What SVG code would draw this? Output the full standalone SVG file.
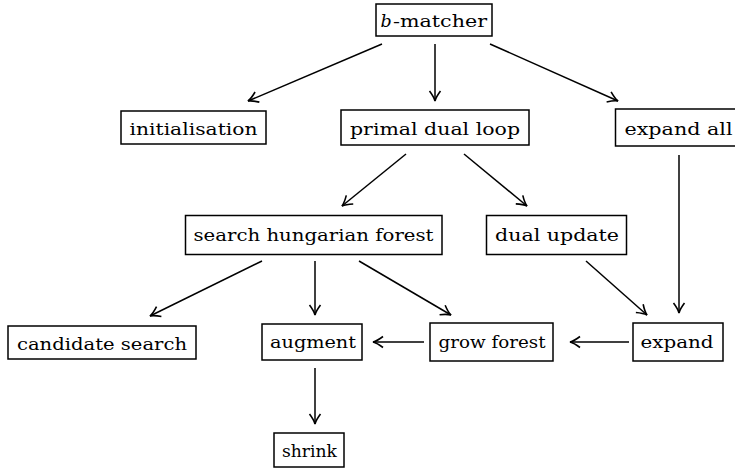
<svg xmlns="http://www.w3.org/2000/svg" width="735" height="470" viewBox="0 0 735 470">
<style>
.n rect{fill:#fff;stroke:#000;stroke-width:1.5}
.n text{font-family:"DejaVu Serif",serif;font-size:17.5px;text-anchor:middle;fill:#000}
#edges line{stroke:#000;stroke-width:1.5;marker-end:url(#ah)}
</style>
<defs>
<marker id="ah" viewBox="-11 -7 13 14" refX="0" refY="0" markerWidth="13" markerHeight="14" markerUnits="userSpaceOnUse" orient="auto">
<path d="M-10,-5.5 Q-4,-1 0,0 Q-4,1 -10,5.5" fill="none" stroke="#000" stroke-width="1.6"/>
</marker>
</defs>
<g id="n-bmatcher" class="n"><rect x="376" y="4" width="116" height="32"/><text x="386" y="27" font-style="italic">b</text><text x="440" y="27" textLength="94" lengthAdjust="spacingAndGlyphs">-matcher</text></g>
<g id="n-init" class="n"><rect x="121" y="111" width="145" height="33"/><text x="193.5" y="135" textLength="128" lengthAdjust="spacingAndGlyphs">initialisation</text></g>
<g id="n-primal" class="n"><rect x="341" y="110" width="188" height="35"/><text x="435" y="135" textLength="170" lengthAdjust="spacingAndGlyphs">primal dual loop</text></g>
<g id="n-expandall" class="n"><rect x="615.5" y="109" width="128" height="37"/><text x="678.5" y="135" textLength="108" lengthAdjust="spacingAndGlyphs">expand all</text></g>
<g id="n-search" class="n"><rect x="185.5" y="215.5" width="256.5" height="39"/><text x="313.5" y="241" textLength="240" lengthAdjust="spacingAndGlyphs">search hungarian forest</text></g>
<g id="n-dual" class="n"><rect x="486.5" y="215.5" width="140" height="39"/><text x="557" y="241" textLength="124" lengthAdjust="spacingAndGlyphs">dual update</text></g>
<g id="n-cand" class="n"><rect x="8" y="326" width="188" height="33"/><text x="102" y="350" textLength="170" lengthAdjust="spacingAndGlyphs">candidate search</text></g>
<g id="n-augment" class="n"><rect x="262" y="324" width="100" height="36"/><text x="313" y="348" textLength="86" lengthAdjust="spacingAndGlyphs">augment</text></g>
<g id="n-grow" class="n"><rect x="430" y="323" width="123" height="38"/><text x="492" y="348" textLength="107" lengthAdjust="spacingAndGlyphs">grow forest</text></g>
<g id="n-expand" class="n"><rect x="633" y="323" width="90" height="38"/><text x="677" y="348" textLength="73" lengthAdjust="spacingAndGlyphs">expand</text></g>
<g id="n-shrink" class="n"><rect x="274" y="433" width="70" height="34"/><text x="309.5" y="457" textLength="55" lengthAdjust="spacingAndGlyphs">shrink</text></g>
<g id="edges">
<line x1="382" y1="44" x2="248" y2="101"/>
<line x1="435" y1="44" x2="435" y2="101"/>
<line x1="490" y1="44" x2="618" y2="101"/>
<line x1="406" y1="154" x2="342" y2="206"/>
<line x1="464" y1="154" x2="527" y2="206"/>
<line x1="679" y1="155" x2="679" y2="313"/>
<line x1="262" y1="261" x2="150" y2="316"/>
<line x1="315" y1="261" x2="315" y2="315"/>
<line x1="359" y1="261" x2="451" y2="315"/>
<line x1="586" y1="261" x2="647" y2="315"/>
<line x1="629" y1="342" x2="570" y2="342"/>
<line x1="424" y1="342" x2="373" y2="342"/>
<line x1="315" y1="368" x2="315" y2="424"/>
</g>
</svg>
